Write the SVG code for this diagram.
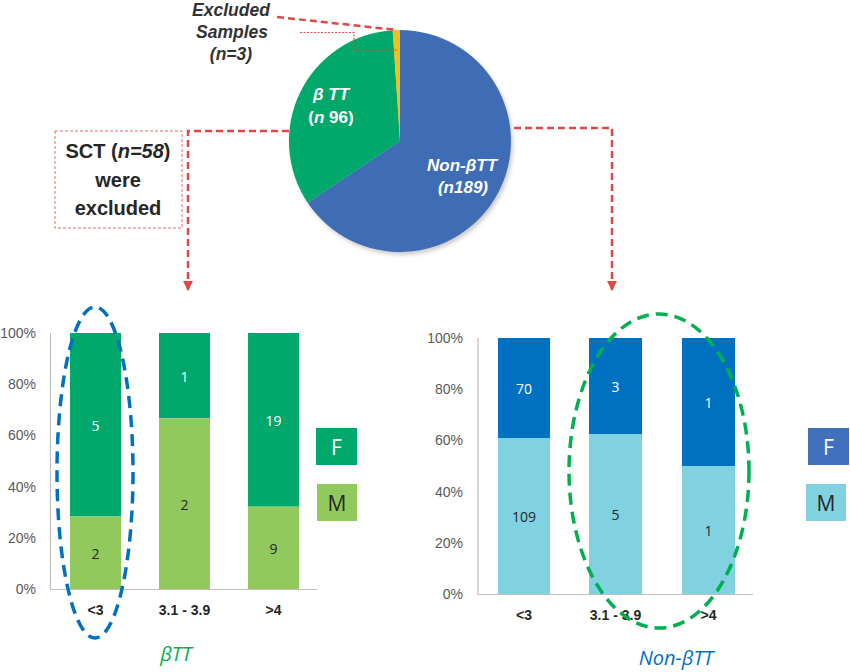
<svg xmlns="http://www.w3.org/2000/svg" width="850" height="672" viewBox="0 0 850 672">
<style>
.ax{font-family:"Liberation Sans",Arial,sans-serif;font-size:14px;fill:#595959;text-anchor:end}
.xl{font-family:"Liberation Sans",Arial,sans-serif;font-size:14px;font-weight:bold;fill:#262626;text-anchor:middle}
.vl{font-family:"Open Sans","Liberation Sans",sans-serif;font-size:14px;text-anchor:middle;dominant-baseline:central}
.lg{font-family:"Open Sans","Liberation Sans",sans-serif;font-size:21px;text-anchor:middle;dominant-baseline:central}
.pl{font-family:"Liberation Sans",Arial,sans-serif;font-size:17px;font-weight:bold;fill:#fff;text-anchor:middle}
.ex{font-family:"Liberation Sans",Arial,sans-serif;font-size:17.5px;font-weight:bold;font-style:italic;fill:#333;text-anchor:middle}
.sct{font-family:"Liberation Sans",Arial,sans-serif;font-size:20px;font-weight:bold;fill:#262626;text-anchor:middle}
.ttl{font-family:"Open Sans","Liberation Sans",sans-serif;font-size:20px;font-style:italic;text-anchor:middle}
.axis{stroke:#BFBFBF;stroke-width:1.2;fill:none}
.conn{stroke:#E04848;stroke-width:2.5;stroke-dasharray:7 4;fill:none}
</style>
<defs>
<marker id="arr" viewBox="0 0 10 10" refX="9" refY="5" markerWidth="4" markerHeight="4" orient="auto" markerUnits="strokeWidth">
<path d="M0,0 L10,5 L0,10 Z" fill="#E04848"/>
</marker>
<filter id="sh" x="-10%" y="-10%" width="130%" height="130%">
<feGaussianBlur stdDeviation="2"/>
</filter>
</defs>

<g id="pie">
<circle cx="402" cy="144" r="111" fill="#999" opacity="0.5" filter="url(#sh)"/>
<path d="M400,141 L400,30 A111,111 0 1 1 307.7,202.7 Z" fill="#3E6DB6"/>
<path d="M400,141 L307.7,202.7 A111,111 0 0 1 392.7,30.2 Z" fill="#00A86B"/>
<path d="M400,141 L392.7,30.2 A111,111 0 0 1 400,30 Z" fill="#F0C020"/>
<text class="pl" x="331" y="100"><tspan font-style="italic">β TT</tspan></text>
<text class="pl" x="331" y="123">(<tspan font-style="italic">n</tspan> 96)</text>
<text class="pl" x="462" y="171" font-style="italic">Non-βTT</text>
<text class="pl" x="463" y="193" font-style="italic">(n189)</text>
</g>

<g id="excluded-label">
<text class="ex" x="231" y="16">Excluded</text>
<text class="ex" x="232" y="38">Samples</text>
<text class="ex" x="231" y="60">(n=3)</text>
</g>

<g id="sct-box">
<rect x="55" y="131" width="127" height="97" fill="none" stroke="#E86868" stroke-width="1" stroke-dasharray="3 2"/>
<text class="sct" x="118" y="158">SCT (<tspan font-style="italic">n=58</tspan>)</text>
<text class="sct" x="118" y="187">were</text>
<text class="sct" x="118" y="215">excluded</text>
</g>

<g id="connectors">
<path class="conn" d="M277,17 L397,30"/>
<path d="M300,32.5 L354,32.5 L354,50 L398,50" fill="none" stroke="#E04848" stroke-width="1.2" stroke-dasharray="2 1.5"/>
<path class="conn" d="M289,131 L188,131 L188,290" marker-end="url(#arr)"/>
<path class="conn" d="M514,128 L612,128 L612,290" marker-end="url(#arr)"/>
</g>

<g id="chart-btt">
<path class="axis" d="M50.5,333 L50.5,589.5 L317,589.5"/>
<text class="ax" x="36" y="338">100%</text>
<text class="ax" x="36" y="389">80%</text>
<text class="ax" x="36" y="440">60%</text>
<text class="ax" x="36" y="492">40%</text>
<text class="ax" x="36" y="543">20%</text>
<text class="ax" x="36" y="594">0%</text>
<rect x="70" y="333" width="51" height="183.5" fill="#00A86B"/>
<rect x="70" y="516.5" width="51" height="72.5" fill="#92C95C"/>
<rect x="159" y="333" width="51" height="85.3" fill="#00A86B"/>
<rect x="159" y="418.3" width="51" height="170.7" fill="#92C95C"/>
<rect x="248" y="333" width="51" height="173.7" fill="#00A86B"/>
<rect x="248" y="506.7" width="51" height="82.3" fill="#92C95C"/>
<text class="vl" x="95.5" y="425" fill="#fff">5</text>
<text class="vl" x="95.5" y="553" fill="#262626">2</text>
<text class="vl" x="184.5" y="376" fill="#fff">1</text>
<text class="vl" x="184.5" y="504" fill="#262626">2</text>
<text class="vl" x="273.5" y="420" fill="#fff">19</text>
<text class="vl" x="273.5" y="548" fill="#262626">9</text>
<text class="xl" x="95.5" y="615">&lt;3</text>
<text class="xl" x="184.5" y="615">3.1 - 3.9</text>
<text class="xl" x="273.5" y="615">&gt;4</text>
<rect x="316" y="428" width="41" height="37" fill="#00A86B"/>
<text class="lg" x="336.5" y="447" fill="#fff">F</text>
<rect x="317" y="484" width="40" height="37" fill="#92C95C"/>
<text class="lg" x="337" y="503" fill="#262626">M</text>
<text class="ttl" x="176" y="661" fill="#00B050">βTT</text>
<ellipse cx="95" cy="472.5" rx="38" ry="165.5" fill="none" stroke="#0070C0" stroke-width="3.5" stroke-dasharray="12 7"/>
</g>

<g id="chart-nonbtt">
<path class="axis" d="M478,338 L478,594.5 L753,594.5"/>
<text class="ax" x="463" y="343">100%</text>
<text class="ax" x="463" y="394">80%</text>
<text class="ax" x="463" y="445">60%</text>
<text class="ax" x="463" y="497">40%</text>
<text class="ax" x="463" y="548">20%</text>
<text class="ax" x="463" y="599">0%</text>
<rect x="498" y="338" width="52" height="100" fill="#0070C0"/>
<rect x="498" y="438" width="52" height="156" fill="#80D2E0"/>
<rect x="589" y="338" width="53" height="96" fill="#0070C0"/>
<rect x="589" y="434" width="53" height="160" fill="#80D2E0"/>
<rect x="682" y="338" width="53" height="128" fill="#0070C0"/>
<rect x="682" y="466" width="53" height="128" fill="#80D2E0"/>
<text class="vl" x="524" y="388" fill="#fff">70</text>
<text class="vl" x="524" y="516" fill="#262626">109</text>
<text class="vl" x="615.5" y="386" fill="#fff">3</text>
<text class="vl" x="615.5" y="514" fill="#262626">5</text>
<text class="vl" x="708.5" y="402" fill="#fff">1</text>
<text class="vl" x="708.5" y="530" fill="#262626">1</text>
<text class="xl" x="524" y="620">&lt;3</text>
<text class="xl" x="615.5" y="620">3.1 - 3.9</text>
<text class="xl" x="708.5" y="620">&gt;4</text>
<rect x="808" y="428" width="41" height="37" fill="#4170BD"/>
<text class="lg" x="828.5" y="447" fill="#fff">F</text>
<rect x="806" y="484" width="40" height="37" fill="#80D2E0"/>
<text class="lg" x="826" y="503" fill="#262626">M</text>
<text class="ttl" x="676" y="665" fill="#0070C0">Non-βTT</text>
<ellipse cx="659" cy="471" rx="90" ry="157" fill="none" stroke="#00B050" stroke-width="3.5" stroke-dasharray="12 7"/>
</g>
</svg>
